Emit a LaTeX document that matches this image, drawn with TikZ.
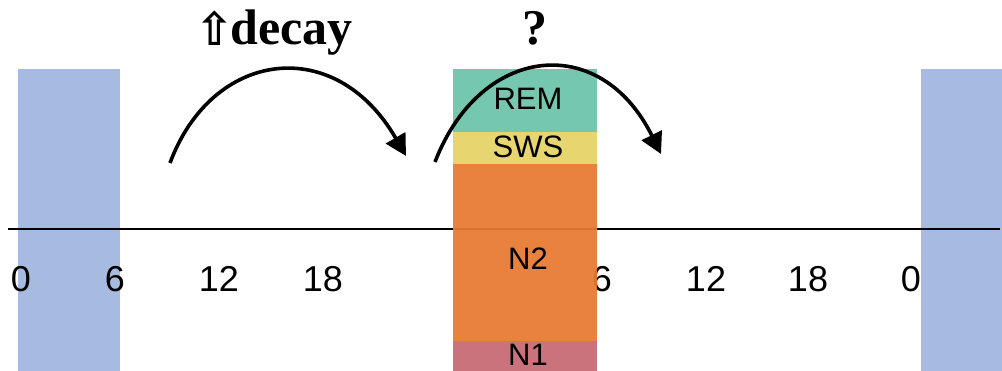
\documentclass[tikz,border=0pt]{standalone}
\usepackage{fontspec}
\setmainfont{Liberation Sans}
\newfontfamily\timesfont{Liberation Serif}
\newfontfamily\symfont{DejaVu Sans}
\usetikzlibrary{arrows.meta}
\definecolor{nightblue}{HTML}{A7BBE0}
\definecolor{remcol}{HTML}{6CC4AA}
\definecolor{swscol}{HTML}{E6D266}
\definecolor{ntwocol}{HTML}{E87A33}
\definecolor{nonecol}{HTML}{C86A75}
\tikzset{
  stage/.style={fill opacity=0.94, text opacity=1, inner sep=0pt, outer sep=0pt,
    minimum width=144pt, font=\fontsize{31}{31}\selectfont},
  hour/.style={inner sep=0pt, font=\fontsize{36}{36}\selectfont},
  title/.style={inner sep=0pt, anchor=base, font=\timesfont\bfseries\fontsize{50}{50}\selectfont},
  hop/.style={line width=3.6pt, -{Triangle[length=21pt,width=22pt]}},
}
\begin{document}
\begin{tikzpicture}[x=1pt,y=-1pt]
\useasboundingbox (0,0) rectangle (1002,371);
% night bands
\fill[nightblue] (18,69) rectangle (120,371);
\fill[nightblue] (921,69) rectangle (1002,371);
% time axis
\draw[line width=2.4pt] (8,229) -- (1000,229);
\node[hour] (h0a) at (21,279) {0};
\node[hour] (h6a) at (115,279) {6};
\node[hour] (h12a) at (219,279) {12};
\node[hour] (h18a) at (323,279) {18};
\node[hour] (h6b) at (602,279) {6};
\node[hour] (h12b) at (706,279) {12};
\node[hour] (h18b) at (808,279) {18};
\node[hour] (h0b) at (911,279) {0};
% sleep stage stack
\node[stage, fill=remcol, minimum height=63pt] (rem) at (525,100.5) {};
\node[stage, fill=swscol, minimum height=32pt] (sws) at (525,148) {};
\node[stage, fill=ntwocol, minimum height=177pt] (n2) at (525,252.5) {};
\node[stage, fill=nonecol, minimum height=30pt] (n1) at (525,356) {};
\node[stage, fill=none] (remlbl) at (528,99) {REM};
\node[stage, fill=none] (swslbl) at (528,147) {SWS};
\node[stage, fill=none] (n2lbl) at (528,259) {N2};
\node[stage, fill=none] (n1lbl) at (528,355) {N1};
% titles
\node[title, anchor=base west] (decay) at (195,45) {{\symfont\fontsize{46}{46}\selectfont\raisebox{-1pt}{⇧}}\kern-3pt decay};
\node[title] (question) at (535,45) {?};
% hops
\coordinate (a1) at (170,163);
\coordinate (b1) at (406,156);
\coordinate (a2) at (435,162);
\coordinate (b2) at (661,154);
\draw[hop] (a1) .. controls (212,50) and (335,33) .. (b1);
\draw[hop] (a2) .. controls (480,45) and (600,31) .. (b2);
\end{tikzpicture}
\end{document}
